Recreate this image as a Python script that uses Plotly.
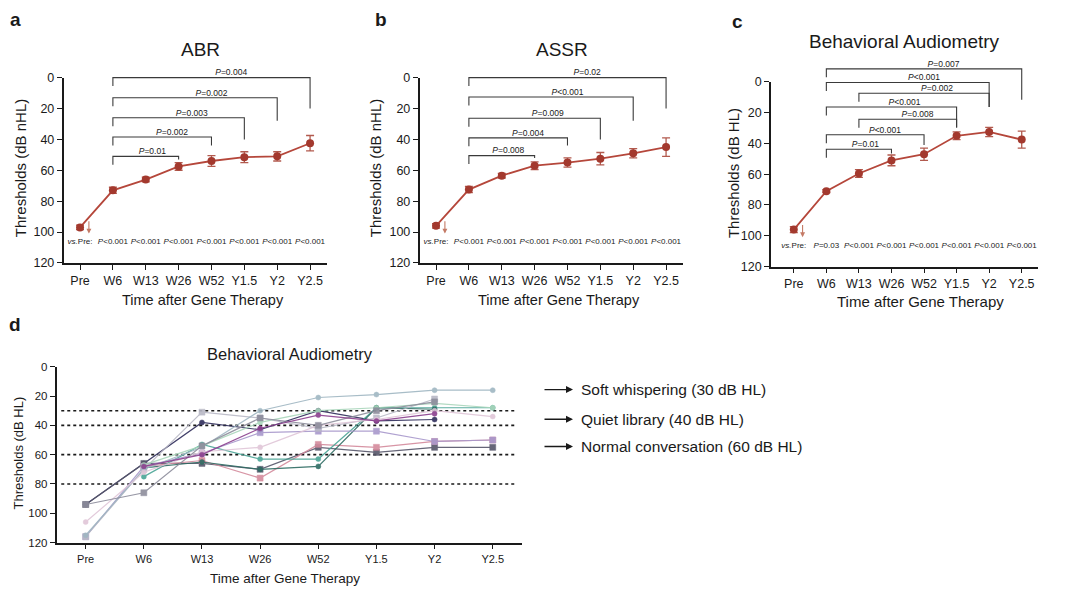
import plotly.graph_objects as go

W, H = 1080, 603
FONT = "Arial, 'Liberation Sans', sans-serif"

# ---------------- data ----------------
cats = ["Pre", "W6", "W13", "W26", "W52", "Y1.5", "Y2", "Y2.5"]
idx = list(range(len(cats)))
yticks = [0, 20, 40, 60, 80, 100, 120]

abr_mean = [97, 73, 66, 57.5, 54, 51.5, 51, 42.5]
abr_err = [1.5, 2, 1.5, 2.5, 3.5, 3.5, 3, 5]
assr_mean = [96, 72.5, 63.5, 57, 55, 52.5, 49, 45]
assr_err = [1.5, 2, 1.5, 2.5, 3, 4, 3, 6]
beh_mean = [96, 71, 59.5, 51, 47, 35, 32.5, 37.5]
beh_err = [2, 1, 2.5, 3.5, 4, 2.5, 3, 5.5]

abr_vs_pre = ["P<0.001"] * 7
assr_vs_pre = ["P<0.001"] * 7
beh_vs_pre = ["P=0.03"] + ["P<0.001"] * 6

# brackets: (start, end, bracket level, right leg end, label)
abr_brackets = [(1, 3, 51, 53, "P=0.01"), (1, 4, 38.5, 44, "P=0.002"),
                (1, 5, 26, 40, "P=0.003"), (1, 6, 13, 28, "P=0.002"),
                (1, 7, 0, 20, "P=0.004")]
assr_brackets = [(1, 3, 50.5, 52, "P=0.008"), (1, 4, 39, 44, "P=0.004"),
                 (1, 5, 26.3, 40, "P=0.009"), (1, 6, 12.6, 28, "P<0.001"),
                 (1, 7, 0, 20, "P=0.02")]
beh_brackets = [(1, 3, 43.8, 46.6, "P=0.01"), (1, 4, 34.3, 41, "P<0.001"),
                (2, 5, 24.3, 29.6, "P=0.008"), (1, 5, 16.3, 29.6, "P<0.001"),
                (2, 6, 7.4, 16.3, "P=0.002"), (1, 6, 0.4, 16.3, "P<0.001"),
                (1, 7, -8.5, 11.6, "P=0.007")]

# panel d: individual behavioural thresholds
d_series = [
    ([94, 66, 38, 43, 30, 37, 36, None], "#2e2c5a", "circle"),
    ([94, 66, 66, 70, 55, 58.5, 55, 55], "#56566a", "square"),
    ([None, 68, 64, 76, 53, 55, 51, 50], "#d48a9c", "square"),
    ([None, 75, 53, 63, 63, 28, 28, 28], "#4aa596", "circle"),
    ([None, 69, 65, 70, 68, 28, 29, None], "#2d6b62", "circle"),
    ([116, 68, 59, 45, 44, 44, 51, 50], "#a898cc", "square"),
    ([116, 70, 31, 35, 42, 35, 22, None], "#b9b9c6", "square"),
    ([115, 70, 55, 30, 21, 19, 16, 16], "#9fb6c2", "circle"),
    ([None, 67, 54, 38, 30, 28, 25, 28], "#a9d6bb", "circle"),
    ([106, 72, 58, 55, 40, 36, 30, 34], "#e0c6d8", "circle"),
    ([94, 86, 54, 35, 40, 30, 24, None], "#8d8d9c", "square"),
    ([None, 68, 60, 42, 33, 37, 32, None], "#8b3f8e", "circle"),
]
ref_levels = [30, 40, 60, 80]
ref_labels = ["Soft whispering (30 dB HL)", "Quiet library (40 dB HL)",
              "Normal conversation (60 dB HL)"]


def fmt(p):
    return "<i>P</i>" + p[1:].replace("<", "&lt;")


def xd(a, b):
    return [a / W, b / W]


def yd(top, bot):
    return [1 - bot / H, 1 - top / H]


fig = go.Figure()
layout = dict(width=W, height=H, margin=dict(l=0, r=0, t=0, b=0),
              plot_bgcolor="rgba(0,0,0,0)", paper_bgcolor="white", showlegend=False,
              font=dict(family=FONT, color="#1a1a1a"))
annotations = []
shapes = []

panels = [
    (1, 2, (63.6, 326.5), [-0.5, 7.5], 72.3, 262.0, -14, abr_mean, abr_err, abr_vs_pre, abr_brackets),
    (3, 4, (419.6, 682.5), [-0.5, 7.5], 72.3, 262.0, -14, assr_mean, assr_err, assr_vs_pre, assr_brackets),
    (5, 6, (771.0, 1038.0), [-0.7, 7.5], 76.7, 265.7, -16, beh_mean, beh_err, beh_vs_pre, beh_brackets),
]


def axname(n, a):
    return a + ("" if n == 1 else str(n))


for (m, b, xdom, xr, ytop, ybot, btop, mean, err, vs, brackets) in panels:
    unit = (ybot - ytop) / 120.0
    xa, ya = axname(m, "x"), axname(m, "y")
    xb, yb = axname(b, "x"), axname(b, "y")
    layout[axname(m, "xaxis")] = dict(
        domain=xd(*xdom), range=xr, anchor=ya, tickvals=idx, ticktext=cats,
        showline=True, linecolor="#1a1a1a", linewidth=1.6, ticks="outside",
        ticklen=5, tickwidth=1.4, tickcolor="#1a1a1a", showgrid=False,
        zeroline=False, tickfont=dict(size=12.5, family=FONT, color="#1a1a1a"))
    layout[axname(m, "yaxis")] = dict(
        domain=yd(ytop, ybot), range=[120, 0], anchor=xa, tickvals=yticks,
        showline=True, linecolor="#1a1a1a", linewidth=1.6, ticks="outside",
        ticklen=5, tickwidth=1.4, tickcolor="#1a1a1a", showgrid=False,
        zeroline=False, tickfont=dict(size=12.5, family=FONT, color="#1a1a1a"))
    layout[axname(b, "xaxis")] = dict(domain=xd(*xdom), range=xr, anchor=yb,
                                      visible=False, showgrid=False, zeroline=False)
    layout[axname(b, "yaxis")] = dict(domain=yd(ytop + btop * unit, ybot),
                                      range=[120, btop], anchor=xb, visible=False,
                                      showgrid=False, zeroline=False)
    # mean +/- SEM
    fig.add_trace(go.Scatter(
        x=idx, y=mean, mode="lines+markers", xaxis=xa, yaxis=ya,
        line=dict(color="#b5473b", width=1.8),
        marker=dict(color="#a3392e", size=8),
        error_y=dict(type="data", array=err, color="#b25a4e", thickness=1.3, width=4),
        cliponaxis=False))
    # vs Pre row
    fig.add_trace(go.Scatter(
        x=idx, y=[106.5] * len(idx), mode="text", xaxis=xa, yaxis=ya,
        text=["<i>vs.</i>Pre:"] + [fmt(p) for p in vs],
        textfont=dict(size=8, family=FONT, color="#1a1a1a"), cliponaxis=False))
    # brackets
    bx, by, tx, ty, tt = [], [], [], [], []
    for (s, e, lev, rend, lab) in brackets:
        bx += [s, s, e, e, None]
        by += [lev + 5.5, lev, lev, rend, None]
        tx.append(s + 0.6 * (e - s))
        ty.append(lev)
        tt.append(fmt(lab))
    fig.add_trace(go.Scatter(x=bx, y=by, mode="lines", xaxis=xb, yaxis=yb,
                             line=dict(color="#3a3a3a", width=1.1)))
    fig.add_trace(go.Scatter(x=tx, y=ty, mode="text", xaxis=xb, yaxis=yb,
                             text=tt, textposition="top center",
                             textfont=dict(size=8.5, family=FONT, color="#1a1a1a"),
                             cliponaxis=False))
    # arrow at Pre
    annotations.append(dict(x=0.27, y=101, ax=0.27, ay=92, xref=xa, yref=ya,
                            axref=xa, ayref=ya, text="", showarrow=True,
                            arrowhead=2, arrowsize=0.9, arrowwidth=1.1,
                            arrowcolor="#c47a66"))

# ---------------- panel d ----------------
layout["xaxis7"] = dict(
    domain=xd(56.6, 521.8), range=[-0.5, 7.5], anchor="y7", tickvals=idx,
    ticktext=cats, showline=True, linecolor="#1a1a1a", linewidth=1.6,
    ticks="outside", ticklen=5, tickwidth=1.4, tickcolor="#1a1a1a",
    showgrid=False, zeroline=False, tickfont=dict(size=11, family=FONT, color="#1a1a1a"))
layout["yaxis7"] = dict(
    domain=yd(368.3, 548.3), range=[120, 0], anchor="x7", tickvals=yticks,
    showline=True, linecolor="#1a1a1a", linewidth=1.6, ticks="outside",
    ticklen=5, tickwidth=1.4, tickcolor="#1a1a1a", showgrid=False,
    zeroline=False, tickfont=dict(size=11.5, family=FONT, color="#1a1a1a"))

for lev in ref_levels:
    shapes.append(dict(type="line", xref="x7 domain", yref="y7", x0=0.01, x1=0.99,
                       y0=lev, y1=lev, line=dict(color="#1a1a1a", width=1.6, dash="dot"),
                       layer="below"))

for vals, col, sym in d_series:
    fig.add_trace(go.Scatter(
        x=idx, y=vals, mode="lines+markers", xaxis="x7", yaxis="y7",
        line=dict(color=col, width=1.2), connectgaps=False,
        marker=dict(color=col, size=5 if sym == "circle" else 6, symbol=sym,
                    line=dict(color=col, width=0.5)),
        opacity=0.9, cliponaxis=False))

# legend-like arrows
for lab, yp in zip(ref_labels, [391.7, 422.0, 450.0]):
    annotations.append(dict(x=573 / W, y=1 - yp / H, ax=-30, ay=0, xref="paper",
                            yref="paper", text="", showarrow=True, arrowhead=2,
                            arrowsize=1, arrowwidth=1.4, arrowcolor="#1a1a1a"))
    annotations.append(dict(x=579 / W, y=1 - yp / H, xref="paper", yref="paper",
                            text=lab, showarrow=False, xanchor="left", yanchor="middle",
                            font=dict(size=15.5, family=FONT, color="#1a1a1a")))

# ---------------- texts ----------------
def ptext(txt, x, y, size, angle=0, bold=False, xanchor="center"):
    annotations.append(dict(x=x / W, y=1 - y / H, xref="paper", yref="paper",
                            text=("<b>%s</b>" % txt) if bold else txt,
                            showarrow=False, textangle=angle, xanchor=xanchor,
                            yanchor="middle",
                            font=dict(size=size, family=FONT, color="#1a1a1a")))

ptext("a", 15, 13, 19, bold=True)
ptext("b", 381, 13, 19, bold=True)
ptext("c", 737, 15, 19, bold=True)
ptext("d", 15, 325, 19, bold=True)

ptext("ABR", 200, 43, 19)
ptext("ASSR", 562, 43, 19)
ptext("Behavioral Audiometry", 905, 35, 19)
ptext("Behavioral Audiometry", 290, 355, 16.5)

ptext("Thresholds (dB nHL)", 20, 165, 15, angle=-90)
ptext("Thresholds (dB nHL)", 375, 165, 15, angle=-90)
ptext("Thresholds (dB HL)", 733, 170, 15, angle=-90)
ptext("Thresholds (dB HL)", 18, 457, 13, angle=-90)

ptext("Time after Gene Therapy", 203, 300, 14.5)
ptext("Time after Gene Therapy", 559, 300, 14.5)
ptext("Time after Gene Therapy", 920, 302, 15)
ptext("Time after Gene Therapy", 285, 585, 13.5)

layout["annotations"] = annotations
layout["shapes"] = shapes
fig.update_layout(**layout)

fig.write_html("out.html", config={"displayModeBar": False},
               post_script="document.body.style.margin='0';document.body.style.overflow='hidden';")
